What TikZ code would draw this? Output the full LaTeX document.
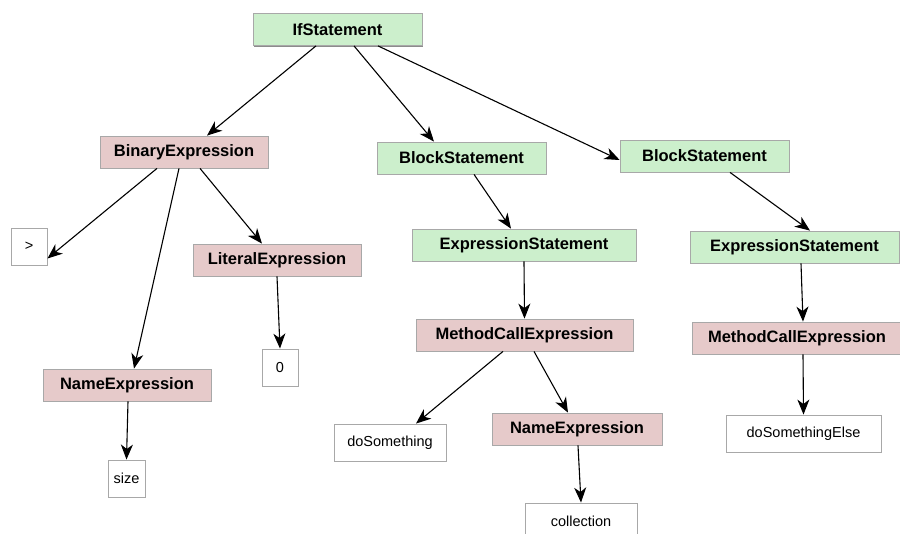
\documentclass[tikz,border=0pt]{standalone}
\usepackage{fontspec}
\setmainfont{Liberation Sans}
\usetikzlibrary{arrows.meta,shadows}
\definecolor{stmtfill}{HTML}{CCEFCC}
\definecolor{exprfill}{HTML}{E6CACA}
\definecolor{boxline}{HTML}{A8A8A8}
\definecolor{shade}{HTML}{8C8C8C}
\tikzset{
  astnode/.style={draw=boxline, line width=0.8pt, inner sep=0pt, minimum height=32pt,
    font=\fontsize{16.5}{19}\selectfont\bfseries,
    drop shadow={shadow xshift=1.2pt, shadow yshift=-1.2pt, fill=shade, opacity=1}},
  stmt/.style={astnode, fill=stmtfill},
  expr/.style={astnode, fill=exprfill},
  leaf/.style={draw=boxline, line width=0.9pt, fill=white, inner sep=0pt, minimum height=37pt,
    font=\fontsize{14.5}{17}\selectfont},
  link/.style={-{Stealth[length=15pt,width=12pt,inset=4.5pt]}, line width=1.1pt, black}
}
\begin{document}
\begin{tikzpicture}[x=1pt,y=-1pt]
\useasboundingbox[fill=white] (0,0) rectangle (900,534);

% statements
\node[stmt, minimum width=169pt] (ifs)  at (337.5,29.5) {IfStatement};
\node[stmt, minimum width=169pt] (blk1) at (461.5,158)  {BlockStatement};
\node[stmt, minimum width=169pt] (blk2) at (704.5,156)  {BlockStatement};
\node[stmt, minimum width=224pt] (exs1) at (524,245)    {ExpressionStatement};
\node[stmt, minimum width=209pt] (exs2) at (794.5,247)  {ExpressionStatement};

% expressions
\node[expr, minimum width=168pt] (bin)   at (184,152)   {BinaryExpression};
\node[expr, minimum width=168pt] (lit)   at (277,260)   {LiteralExpression};
\node[expr, minimum width=168pt] (name1) at (127,385)   {NameExpression};
\node[expr, minimum width=217pt] (mce1)  at (524.5,335) {MethodCallExpression};
\node[expr, minimum width=210pt] (mce2)  at (797,338)   {MethodCallExpression};
\node[expr, minimum width=170pt] (name2) at (577,429)   {NameExpression};

% leaves
\node[leaf, minimum width=36pt]  (gt)   at (29,246.5)   {>};
\node[leaf, minimum width=36pt]  (zero) at (280,367.5)  {0};
\node[leaf, minimum width=37pt]  (size) at (126.5,478.5){size};
\node[leaf, minimum width=112pt] (dos)  at (390,442.5)  {doSomething};
\node[leaf, minimum width=155pt] (dose) at (803.5,433.5){doSomethingElse};
\node[leaf, minimum width=112pt] (coll) at (581,521.5)  {collection};

% edges
\draw[link] ([xshift=-21.5pt]ifs.south) -- ([xshift=23pt]bin.north);
\draw[link] ([xshift=16.5pt]ifs.south)  -- ([xshift=-27.5pt]blk1.north);
\draw[link] ([xshift=40.5pt]ifs.south)  -- ([yshift=-4pt]blk2.west);
\draw[link] ([xshift=-27pt]bin.south)   -- ([yshift=-12pt]gt.east);
\draw[link] ([xshift=-5pt]bin.south)    -- ([xshift=7pt]name1.north);
\draw[link] ([xshift=16pt]bin.south)    -- ([xshift=-15pt]lit.north);
\draw[link] (lit.south)                 -- (zero.north);
\draw[link] ([xshift=12.5pt]blk1.south) -- ([xshift=-13pt]exs1.north);
\draw[link] ([xshift=25.5pt]blk2.south) -- ([xshift=15.5pt]exs2.north);
\draw[link] (exs1.south)                -- (mce1.north);
\draw[link] ([xshift=6.5pt]exs2.south)  -- ([xshift=6pt]mce2.north);
\draw[link] ([xshift=1pt]name1.south)   -- (size.north);
\draw[link] ([xshift=-21.5pt]mce1.south)-- ([xshift=26pt]dos.north);
\draw[link] ([xshift=9.5pt]mce1.south)  -- ([xshift=-9pt]name2.north);
\draw[link] ([xshift=1pt]name2.south)   -- (coll.north);
\draw[link] ([xshift=6pt]mce2.south)    -- (dose.north);
\end{tikzpicture}
\end{document}
